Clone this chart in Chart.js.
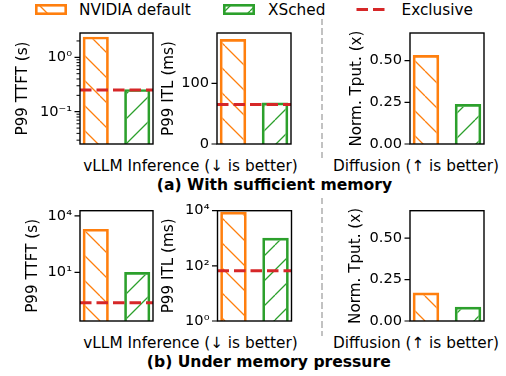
<!DOCTYPE html>
<html>
<head>
<meta charset="utf-8">
<script src="https://cdn.jsdelivr.net/npm/chart.js@4.4.1/dist/chart.umd.min.js"></script>
<style>
  html, body { margin: 0; padding: 0; background: #fff; }
  #fig { position: relative; width: 506px; height: 376px; overflow: hidden;
         font-family: 'DejaVu Sans', sans-serif; color: #000; }
  #fig canvas { position: absolute; }
  .txt { position: absolute; white-space: nowrap; font-size: 15.3px; line-height: 18px; }
  .cap { transform: translateX(-50%); }
  .bold { font-weight: bold; font-size: 15.6px; }
  .sep { position: absolute; left: 321px; width: 2px;
         background: repeating-linear-gradient(to bottom, #c2c2c2 0 6px, transparent 6px 9.5px); }
</style>
</head>
<body>
<div id="fig">
  <span class="txt" style="left:79px;top:0.5px">NVIDIA default</span>
  <span class="txt" style="left:268px;top:0.5px">XSched</span>
  <span class="txt" style="left:401.5px;top:0.5px">Exclusive</span>

  <div class="sep" style="top:19px;height:139px"></div>
  <div class="sep" style="top:198px;height:138px"></div>

  <span class="txt cap" style="left:190.5px;top:156.7px">vLLM Inference (↓ is better)</span>
  <span class="txt cap" style="left:416px;top:156.7px">Diffusion (↑ is better)</span>
  <span class="txt cap bold" style="left:274.5px;top:176px">(a) With sufficient memory</span>

  <span class="txt cap" style="left:190.5px;top:334.3px">vLLM Inference (↓ is better)</span>
  <span class="txt cap" style="left:416px;top:334.3px">Diffusion (↑ is better)</span>
  <span class="txt cap bold" style="left:268.8px;top:352.7px">(b) Under memory pressure</span>
</div>

<script>
// ---- data ----
const systems = ['NVIDIA default', 'XSched'];

// (a) with sufficient memory
const ttftA = [2.4, 0.26];        // P99 TTFT, s
const ttftExclusiveA = 0.25;
const itlA = [173, 68.5];         // P99 ITL, ms
const itlExclusiveA = 65;
const tputA = [0.534, 0.24];      // normalized throughput

// (b) under memory pressure
const ttftB = [2050, 10.5];
const ttftExclusiveB = 0.25;
const itlB = [9100, 1050];
const itlExclusiveB = 66;
const tputB = [0.172, 0.086];

// tick values and labels
const ttftTicksA = [0.1, 1];
const ttftTickLabelsA = ['10⁻¹', '10⁰'];
const itlTicksA = [0, 100];
const itlTickLabelsA = ['0', '100'];
const ttftTicksB = [10, 10000];
const ttftTickLabelsB = ['10¹', '10⁴'];
const itlTicksB = [1, 100, 10000];
const itlTickLabelsB = ['10⁰', '10²', '10⁴'];
const tputTicks = [0, 0.25, 0.5];
const tputTickLabels = ['0.00', '0.25', '0.50'];

// ---- styling ----
const ORANGE = '#ff7f0e', GREEN = '#2ca02c', RED = '#d62728';
const X_MIN = -0.38, X_MAX = 1.38;
const HATCH = 25;
const M = 20; // canvas margin around each plot area (room for edge tick labels)
const TITLE_SIZE = 15.2;

Chart.defaults.font.family = "'DejaVu Sans', sans-serif";
Chart.defaults.font.size = 14.6;
Chart.defaults.color = '#000';

const fig = document.getElementById('fig');

// hatch tile anchored to the page so every panel shares the same phase
function hatch(ctx, color, dir, pageX, pageY, phase) {
  const c = document.createElement('canvas');
  c.width = c.height = HATCH;
  const g = c.getContext('2d');
  g.strokeStyle = color;
  g.lineWidth = 1.3;
  g.beginPath();
  for (const k of [-1, 0, 1]) {
    if (dir === '\\') { g.moveTo(k * HATCH, 0); g.lineTo(k * HATCH + HATCH, HATCH); }
    else { g.moveTo(k * HATCH, HATCH); g.lineTo(k * HATCH + HATCH, 0); }
  }
  g.stroke();
  const p = ctx.createPattern(c, 'repeat');
  p.setTransform(new DOMMatrix([1, 0, 0, 1, -pageX, phase - pageY]));
  return p;
}

// box around the plot area plus major / minor ticks
const frame = {
  id: 'frame',
  afterDatasetsDraw(chart, args, opts) {
    const {ctx, chartArea: a} = chart;
    const y = chart.scales.y;
    ctx.save();
    ctx.strokeStyle = '#000';
    ctx.lineWidth = 1.2;
    ctx.beginPath();
    y.ticks.forEach(t => {
      const py = y.getPixelForValue(t.value);
      ctx.moveTo(a.left - 5.5, py); ctx.lineTo(a.left, py);
    });
    ctx.stroke();
    if (opts.minor) {
      ctx.lineWidth = 1;
      ctx.beginPath();
      for (let e = Math.floor(Math.log10(y.min)); e <= Math.ceil(Math.log10(y.max)); e++) {
        for (let d = 2; d <= 9; d++) {
          const v = d * Math.pow(10, e);
          if (v <= y.min || v >= y.max) continue;
          const py = y.getPixelForValue(v);
          ctx.moveTo(a.left - 3.5, py); ctx.lineTo(a.left, py);
        }
      }
      ctx.stroke();
    }
    ctx.lineWidth = 1.4;
    ctx.strokeRect(a.left, a.top, a.right - a.left, a.bottom - a.top);
    ctx.restore();
  }
};

function panel(p) {
  const cl = p.cl, ct = Math.floor(p.T - M);
  const cv = document.createElement('canvas');
  const w = Math.ceil(p.R + M - cl), h = Math.ceil(p.B + M - ct);
  cv.width = w; cv.height = h;
  cv.style.left = cl + 'px'; cv.style.top = ct + 'px';
  fig.appendChild(cv);
  const ctx = cv.getContext('2d');

  const datasets = [{
    type: 'bar',
    label: systems.join(' / '),
    data: p.values.map((v, i) => ({x: i, y: v})),
    backgroundColor: [hatch(ctx, ORANGE, '\\', cl, ct, 21), hatch(ctx, GREEN, '/', cl, ct, 20)],
    borderColor: [ORANGE, GREEN],
    borderWidth: 2.7,
    borderSkipped: 'start',
    barPercentage: 0.63,
    categoryPercentage: 1,
    order: 2
  }];
  if (p.exclusive != null) {
    datasets.push({
      type: 'line',
      label: 'Exclusive',
      data: [{x: X_MIN, y: p.exclusive}, {x: X_MAX, y: p.exclusive}],
      borderColor: RED,
      borderWidth: 3,
      borderDash: [11.5, 5],
      pointRadius: 0,
      order: 1
    });
  }

  new Chart(cv, {
    type: 'bar',
    data: {datasets},
    options: {
      responsive: false,
      animation: false,
      events: [],
      layout: {padding: {left: 0, top: p.T - ct, right: w - (p.R - cl), bottom: h - (p.B - ct)}},
      plugins: {legend: {display: false}, tooltip: {enabled: false}, frame: {minor: p.minor}},
      scales: {
        x: {type: 'linear', min: X_MIN, max: X_MAX, offset: false, display: false},
        y: {
          type: p.log ? 'logarithmic' : 'linear',
          min: p.min, max: p.max,
          afterFit: s => { s.width = p.L - cl; },
          afterBuildTicks: s => { s.ticks = p.ticks.map(v => ({value: v})); },
          grid: {display: false, drawTicks: false},
          border: {display: false},
          ticks: {autoSkip: false, padding: 8, callback: (v, i) => p.tickLabels[i]},
          title: {display: true, text: p.title,
                  padding: {top: p.titleX - cl - TITLE_SIZE * 0.6, bottom: 0},
                  font: {size: TITLE_SIZE, lineHeight: 1.2}}
        }
      }
    },
    plugins: [frame]
  });
}

// (a) row
panel({cl: 0, L: 80, T: 33, R: 153, B: 144, title: 'P99 TTFT (s)', titleX: 23,
       log: true, min: 0.0255, max: 2.8, values: ttftA, exclusive: ttftExclusiveA,
       ticks: ttftTicksA, tickLabels: ttftTickLabelsA, minor: true});
panel({cl: 150, L: 217, T: 33, R: 291, B: 144, title: 'P99 ITL (ms)', titleX: 169,
       log: false, min: 0, max: 183, values: itlA, exclusive: itlExclusiveA,
       ticks: itlTicksA, tickLabels: itlTickLabelsA});
panel({cl: 330, L: 410, T: 33, R: 484, B: 144, title: 'Norm. Tput. (x)', titleX: 357.5,
       log: false, min: 0, max: 0.666, values: tputA, exclusive: null,
       ticks: tputTicks, tickLabels: tputTickLabels});

// (b) row
panel({cl: 0, L: 80, T: 210.7, R: 153, B: 321, title: 'P99 TTFT (s)', titleX: 32.7,
       log: true, min: 0.0265, max: 19000, values: ttftB, exclusive: ttftExclusiveB,
       ticks: ttftTicksB, tickLabels: ttftTickLabelsB});
panel({cl: 150, L: 217.5, T: 210.7, R: 291.5, B: 321, title: 'P99 ITL (ms)', titleX: 169.5,
       log: true, min: 1, max: 10000, values: itlB, exclusive: itlExclusiveB,
       ticks: itlTicksB, tickLabels: itlTickLabelsB});
panel({cl: 330, L: 410, T: 210.7, R: 484, B: 321, title: 'Norm. Tput. (x)', titleX: 356,
       log: false, min: 0, max: 0.666, values: tputB, exclusive: null,
       ticks: tputTicks, tickLabels: tputTickLabels});

// ---- legend swatches ----
function swatch(left, top, color, dir, phase) {
  const cv = document.createElement('canvas');
  cv.width = 32; cv.height = 11;
  cv.style.left = left + 'px'; cv.style.top = top + 'px';
  fig.appendChild(cv);
  const g = cv.getContext('2d');
  g.fillStyle = hatch(g, color, dir, left, top, phase);
  g.fillRect(0, 0, 32, 11);
  g.strokeStyle = color;
  g.lineWidth = 2.6;
  g.strokeRect(1.3, 1.3, 29.4, 8.4);
}
swatch(35, 4, ORANGE, '\\', 16);
swatch(223, 4, GREEN, '/', 11);

(function () {
  const cv = document.createElement('canvas');
  cv.width = 30; cv.height = 5;
  cv.style.left = '356px'; cv.style.top = '7px';
  fig.appendChild(cv);
  const g = cv.getContext('2d');
  g.strokeStyle = RED;
  g.lineWidth = 3;
  g.setLineDash([11.5, 5]);
  g.beginPath(); g.moveTo(0.5, 2.5); g.lineTo(29.5, 2.5); g.stroke();
})();
</script>
</body>
</html>
